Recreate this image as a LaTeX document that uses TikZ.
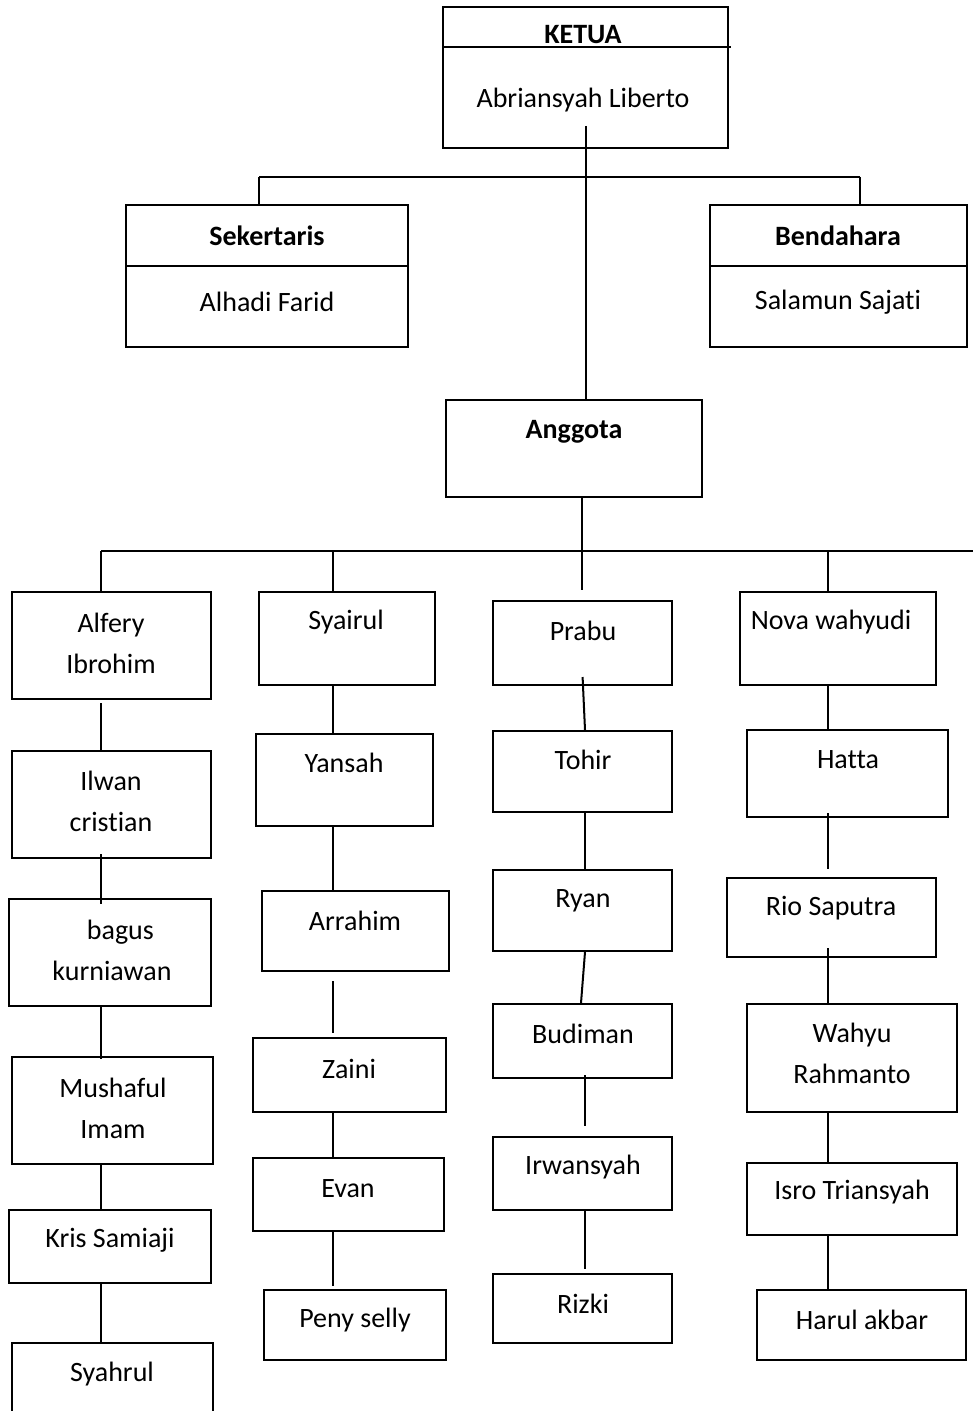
\documentclass[tikz,border=0pt]{standalone}
\usepackage{fontspec}
\setmainfont{Carlito}[Ligatures={NoCommon}]
\usepackage{tikz}
\usetikzlibrary{positioning, fit}

\begin{document}
\begin{tikzpicture}[
  x=0.5pt, y=-0.5pt,
  kotak/.style = {draw, line width=1pt, inner sep=0pt},
  teks/.style  = {inner sep=0pt, align=center,
                  font=\fontsize{14}{20.5}\selectfont},
  judul/.style = {teks, font=\fontsize{14}{20.5}\selectfont\bfseries},
  garis/.style = {line width=1pt}
]
\useasboundingbox (0,0) rectangle (973,1411);

% pengurus inti
\node[kotak, fit={(443,7) (728,148)}] (ketua) {};
\node[judul] (t-ketua) at (583,35) {KETUA};
\node[teks] (t-abri) at (583,100) {Abriansyah Liberto};
\draw[garis] ([yshift=-20.5pt]ketua.north west) -- ([xshift=1pt,yshift=-20.5pt]ketua.north east);

\node[kotak, fit={(126,205) (408,347)}] (sekretaris) {};
\node[judul] (t-sek) at (267,236) {Sekertaris};
\node[teks] (t-alhadi) at (267,302) {Alhadi Farid};
\draw[garis] ([yshift=-31pt]sekretaris.north west) -- ([yshift=-31pt]sekretaris.north east);

\node[kotak, fit={(710,205) (967,347)}] (bendahara) {};
\node[judul] (t-ben) at (838,236) {Bendahara};
\node[teks] (t-salamun) at (838,302) {Salamun Sajati};
\draw[garis] ([yshift=-31pt]bendahara.north west) -- ([yshift=-31pt]bendahara.north east);

\node[kotak, fit={(446,400) (702,497)}] (anggota) {};
\node[judul] (t-anggota) at (574,432) {Anggota};

% anggota, kolom 1
\node[kotak, fit={(12,592) (211,699)}] (alfery) {};
\node[teks] (t-alfery) at (111,643) {Alfery\\Ibrohim};
\node[kotak, fit={(12,751) (211,858)}] (ilwan) {};
\node[teks] (t-ilwan) at (111,801) {Ilwan\\cristian};
\node[kotak, fit={(9,899) (211,1006)}] (bagus) {};
\node[teks] (t-bagus) at (112,950) {\hspace*{0.6em}bagus\\kurniawan};
\node[kotak, fit={(12,1057) (213,1164)}] (mushaful) {};
\node[teks] (t-mushaful) at (113,1108) {Mushaful\\Imam};
\node[kotak, fit={(9,1210) (211,1283)}] (kris) {};
\node[teks] (t-kris) at (110,1240) {Kris Samiaji};
\node[kotak, fit={(12,1343) (213,1425)}] (syahrul) {};
\node[teks] (t-syahrul) at (112,1374) {Syahrul};

% kolom 2
\node[kotak, fit={(259,592) (435,685)}] (syairul) {};
\node[teks] (t-syairul) at (346,622) {Syairul};
\node[kotak, fit={(256,734) (433,826)}] (yansah) {};
\node[teks] (t-yansah) at (344,763) {Yansah};
\node[kotak, fit={(262,891) (449,971)}] (arrahim) {};
\node[teks] (t-arrahim) at (355,921) {Arrahim};
\node[kotak, fit={(253,1038) (446,1112)}] (zaini) {};
\node[teks] (t-zaini) at (349,1069) {Zaini};
\node[kotak, fit={(253,1158) (444,1231)}] (evan) {};
\node[teks] (t-evan) at (348,1189) {Evan};
\node[kotak, fit={(264,1290) (446,1360)}] (peny) {};
\node[teks] (t-peny) at (355,1320) {Peny selly};

% kolom 3
\node[kotak, fit={(493,601) (672,685)}] (prabu) {};
\node[teks] (t-prabu) at (583,631) {Prabu};
\node[kotak, fit={(493,731) (672,812)}] (tohir) {};
\node[teks] (t-tohir) at (583,760) {Tohir};
\node[kotak, fit={(493,870) (672,951)}] (ryan) {};
\node[teks] (t-ryan) at (583,901) {Ryan};
\node[kotak, fit={(493,1004) (672,1078)}] (budiman) {};
\node[teks] (t-budiman) at (583,1034) {Budiman};
\node[kotak, fit={(493,1137) (672,1210)}] (irwansyah) {};
\node[teks] (t-irwansyah) at (583,1167) {Irwansyah};
\node[kotak, fit={(493,1274) (672,1343)}] (rizki) {};
\node[teks] (t-rizki) at (583,1304) {Rizki};

% kolom 4
\node[kotak, fit={(740,592) (936,685)}] (nova) {};
\node[teks] (t-nova) at (831,622) {Nova wahyudi};
\node[kotak, fit={(747,730) (948,817)}] (hatta) {};
\node[teks] (t-hatta) at (848,760) {Hatta};
\node[kotak, fit={(727,878) (936,957)}] (rio) {};
\node[teks] (t-rio) at (831,908) {Rio Saputra};
\node[kotak, fit={(747,1004) (957,1112)}] (wahyu) {};
\node[teks] (t-wahyu) at (852,1053) {Wahyu\\Rahmanto};
\node[kotak, fit={(747,1163) (957,1235)}] (isro) {};
\node[teks] (t-isro) at (852,1192) {Isro Triansyah};
\node[kotak, fit={(757,1290) (966,1360)}] (harul) {};
\node[teks] (t-harul) at (862,1320) {Harul akbar};

% garis cabang atas
\coordinate (kiri) at (259,177);
\coordinate (kanan) at (860,177);
\draw[garis] ([yshift=11.5pt]ketua.south) -- (ketua.south |- anggota.north);
\draw[garis] (kiri) -- (kanan);
\draw[garis] (kiri) -- (kiri |- sekretaris.north);
\draw[garis] (kanan) -- (kanan |- bendahara.north);

% garis cabang anggota
\coordinate (kol1) at (101,551);
\coordinate (kol2) at (333,551);
\coordinate (kol3) at (582,551);
\coordinate (kol4) at (828,551);
\coordinate (ujung) at (973,551);
\draw[garis] (kol1) -- (ujung);
\draw[garis] (anggota.south -| kol3) -- (kol3 |- prabu.north) [shorten >=5pt];
\draw[garis] (kol1) -- (kol1 |- alfery.north);
\draw[garis] (kol2) -- (kol2 |- syairul.north);
\draw[garis] (kol4) -- (kol4 |- nova.north);

\draw[garis, shorten <=1.5pt] (kol1 |- alfery.south) -- (kol1 |- ilwan.north);
\draw[garis, shorten <=-2.5pt, shorten >=-3pt] (kol1 |- ilwan.south) -- (kol1 |- bagus.north);
\draw[garis, shorten >=-1.5pt] (kol1 |- bagus.south) -- (kol1 |- mushaful.north);
\draw[garis] (kol1 |- mushaful.south) -- (kol1 |- kris.north);
\draw[garis] (kol1 |- kris.south) -- (kol1 |- syahrul.north);

\draw[garis] (kol2 |- syairul.south) -- (kol2 |- yansah.north);
\draw[garis] (kol2 |- yansah.south) -- (kol2 |- arrahim.north);
\draw[garis, shorten <=4.5pt, shorten >=2pt] (kol2 |- arrahim.south) -- (kol2 |- zaini.north);
\draw[garis] (kol2 |- zaini.south) -- (kol2 |- evan.north);
\draw[garis, shorten >=1.5pt] (kol2 |- evan.south) -- (kol2 |- peny.north);

\draw[garis, shorten <=-4.5pt] ([xshift=0.5pt]kol3 |- prabu.south) -- ([xshift=1.5pt]kol3 |- tohir.north);
\draw[garis] ([xshift=1.5pt]kol3 |- tohir.south) -- ([xshift=1.5pt]kol3 |- ryan.north);
\draw[garis] ([xshift=1.5pt]kol3 |- ryan.south) -- ([xshift=-0.5pt]kol3 |- budiman.north);
\draw[garis, shorten <=-2pt, shorten >=5pt] ([xshift=1.5pt]kol3 |- budiman.south) -- ([xshift=1.5pt]kol3 |- irwansyah.north);
\draw[garis, shorten >=2pt] ([xshift=1.5pt]kol3 |- irwansyah.south) -- ([xshift=1.5pt]kol3 |- rizki.north);

\draw[garis] (kol4 |- nova.south) -- (kol4 |- hatta.north);
\draw[garis, shorten <=-2.5pt, shorten >=4pt] (kol4 |- hatta.south) -- (kol4 |- rio.north);
\draw[garis, shorten <=-5pt] (kol4 |- rio.south) -- (kol4 |- wahyu.north);
\draw[garis] (kol4 |- wahyu.south) -- (kol4 |- isro.north);
\draw[garis] (kol4 |- isro.south) -- (kol4 |- harul.north);
\end{tikzpicture}
\end{document}
